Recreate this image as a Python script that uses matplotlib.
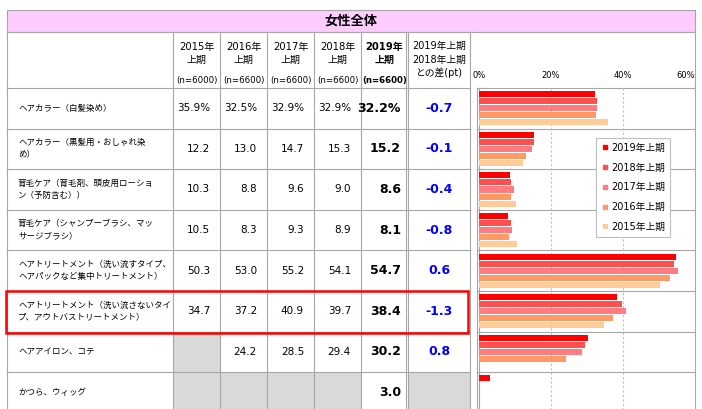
import matplotlib.pyplot as plt
import matplotlib.patches as mpatches
from matplotlib.lines import Line2D

plt.rcParams['font.family'] = ['DejaVu Sans', 'Noto Sans CJK JP']

title = '女性全体'
items = ['ヘアカラー（白髪染め）',
         'ヘアカラー（黒髪用・おしゃれ染\nめ）',
         '育毛ケア（育毛剤、頭皮用ローショ\nン（予防含む））',
         '育毛ケア（シャンプーブラシ、マッ\nサージブラシ）',
         'ヘアトリートメント（洗い流すタイプ、\nヘアパックなど集中トリートメント）',
         'ヘアトリートメント（洗い流さないタイ\nプ、アウトバストリートメント）',
         'ヘアアイロン、コテ',
         'かつら、ウィッグ']
years = ['2015年', '2016年', '2017年', '2018年', '2019年']
n_sizes = ['(n=6000)', '(n=6600)', '(n=6600)', '(n=6600)', '(n=6600)']
y2015 = [35.9, 12.2, 10.3, 10.5, 50.3, 34.7, None, None]
y2016 = [32.5, 13.0, 8.8, 8.3, 53.0, 37.2, 24.2, None]
y2017 = [32.9, 14.7, 9.6, 9.3, 55.2, 40.9, 28.5, None]
y2018 = [32.9, 15.3, 9.0, 8.9, 54.1, 39.7, 29.4, None]
y2019 = [32.2, 15.2, 8.6, 8.1, 54.7, 38.4, 30.2, 3.0]
diff = [-0.7, -0.1, -0.4, -0.8, 0.6, -1.3, 0.8, None]
highlight_row = 5

series = [y2015, y2016, y2017, y2018, y2019]
bar_labels = ['2019年上期', '2018年上期', '2017年上期', '2016年上期', '2015年上期']
bar_colors = ['#FF0000', '#FF5050', '#FF7C80', '#FF9966', '#FFCC99']
bar_data = [y2019, y2018, y2017, y2016, y2015]

W, H = 702, 409
fig = plt.figure(figsize=(W / 100, H / 100), dpi=100)
bg = fig.add_axes([0, 0, 1, 1])
bg.set_xlim(0, W)
bg.set_ylim(H, 0)
bg.axis('off')

col_x = [7, 173, 220, 267, 314, 361, 408, 470, 695]
row_h = 40.6
head_top, head_bot = 32, 88
row_tops = [head_bot + i * row_h for i in range(len(items) + 1)]
grid_c = '#A6A6A6'
lw = 0.8

# title band
bg.add_patch(mpatches.Rectangle((7, 10), 688, 22, facecolor='#FFCCFF', edgecolor=grid_c, lw=lw))
bg.text(351, 21, title, ha='center', va='center', fontsize=9.5, fontweight='bold')

# grey (no data) cells
for i in range(len(items)):
    for j, s in enumerate(series):
        if s[i] is None:
            bg.add_patch(mpatches.Rectangle((col_x[j + 1], row_tops[i]), col_x[j + 2] - col_x[j + 1],
                                            row_h, facecolor='#D9D9D9', edgecolor='none'))
    if diff[i] is None:
        bg.add_patch(mpatches.Rectangle((col_x[6], row_tops[i]), col_x[7] - col_x[6],
                                        row_h, facecolor='#D9D9D9', edgecolor='none'))

# grid lines
for y in [head_top] + row_tops:
    bg.plot([7, 470], [y, y], color=grid_c, lw=lw)
    bg.plot([477, 695], [y, y], color=grid_c, lw=lw)
for x in col_x:
    bg.plot([x, x], [head_top, H], color=grid_c, lw=lw)
bg.plot([406, 406], [head_top, H], color=grid_c, lw=lw)
bg.plot([477, 477], [head_bot, H], color=grid_c, lw=lw)

# header
for j in range(5):
    cx = (col_x[j + 1] + col_x[j + 2]) / 2
    fw = 'bold' if j == 4 else 'normal'
    bg.text(cx, 47, years[j], ha='center', va='center', fontsize=7.2, fontweight=fw)
    bg.text(cx, 60, '上期', ha='center', va='center', fontsize=7.2, fontweight=fw)
    bg.text(cx, 81, n_sizes[j], ha='center', va='center', fontsize=6.2, fontweight=fw)
dx = (col_x[6] + col_x[7]) / 2
for k, t in enumerate(['2019年上期', '2018年上期', 'との差(pt)']):
    bg.text(dx, 46 + k * 13.5, t, ha='center', va='center', fontsize=7)

# body
for i, label in enumerate(items):
    cy = row_tops[i] + row_h / 2
    bg.text(18, cy, label, ha='left', va='center', fontsize=6.1, linespacing=1.5)
    fmt = '{:.1f}%' if i == 0 else '{:.1f}'
    for j, s in enumerate(series):
        if s[i] is None:
            continue
        if j == 4:
            bg.text(col_x[6] - 7, cy, fmt.format(s[i]), ha='right', va='center',
                    fontsize=9, fontweight='bold')
        else:
            bg.text(col_x[j + 2] - 10, cy, fmt.format(s[i]), ha='right', va='center', fontsize=7.5)
    if diff[i] is not None:
        bg.text(dx, cy, '{:.1f}'.format(diff[i]), ha='center', va='center',
                fontsize=9, fontweight='bold', color='#0000FF')

# highlight box
bg.add_patch(mpatches.Rectangle((6, row_tops[highlight_row]), 462, row_h + 1,
                                facecolor='none', edgecolor='#FF0000', lw=1.8, zorder=5))

# bar chart
bottom_px = row_tops[-1]
ax = fig.add_axes([479 / W, 1 - bottom_px / H, 216 / W, (bottom_px - head_bot) / H])
ax.patch.set_alpha(0)
n = len(items)
margin = 0.065
slot = (1 - 2 * margin) / 5
for k, (vals, c, lab) in enumerate(zip(bar_data, bar_colors, bar_labels)):
    pos = [i + margin + (k + 0.5) * slot for i in range(n) if vals[i] is not None]
    v = [vals[i] for i in range(n) if vals[i] is not None]
    ax.barh(pos, v, height=slot * 0.86, color=c, label=lab, zorder=3)
ax.set_xlim(0, 60)
ax.set_ylim(n, 0)
ax.set_xticks([0, 20, 40, 60])
ax.set_xticklabels(['0%', '20%', '40%', '60%'])
ax.xaxis.tick_top()
ax.tick_params(axis='x', length=0, pad=6, labelsize=6)
ax.get_xticklabels()[-1].set_horizontalalignment('right')
ax.set_yticks(range(n + 1))
ax.set_yticklabels([])
ax.tick_params(axis='y', direction='in', length=2, color=grid_c, width=0.8)
for x in [20, 40]:
    ax.axvline(x, color='#BFBFBF', lw=0.8, ls=(0, (2, 2)), zorder=1)
for sp in ['top', 'right', 'bottom']:
    ax.spines[sp].set_visible(False)
ax.spines['left'].set_color(grid_c)
ax.spines['left'].set_linewidth(0.8)

handles = [Line2D([], [], marker='s', ls='none', color=c, markersize=3.5) for c in bar_colors]
leg = ax.legend(handles, bar_labels, loc='upper left', bbox_to_anchor=(596 / W, 1 - 138 / H),
                bbox_transform=fig.transFigure, fontsize=7, frameon=True, fancybox=False,
                edgecolor='#BFBFBF', framealpha=1, handlelength=0.8, handletextpad=0.3,
                labelspacing=1.0, borderpad=0.5, borderaxespad=0)
leg.get_frame().set_linewidth(0.8)
leg.set_zorder(10)

fig.savefig('out.png', dpi=100)
